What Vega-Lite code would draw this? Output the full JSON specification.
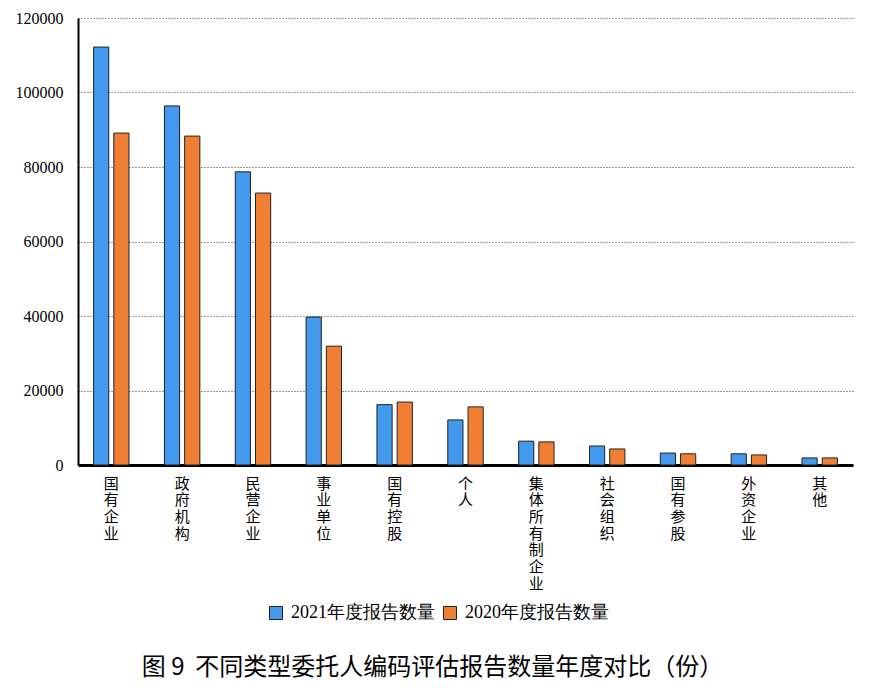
{
  "$schema": "https://vega.github.io/schema/vega-lite/v6.json",
  "autosize": {"type": "none"},
  "padding": {"left": 78, "top": 18, "right": 28, "bottom": 232},
  "width": 775,
  "height": 447,
  "background": "white",
  "title": {
    "text": "图\u00a09\u00a0\u00a0不同类型委托人编码评估报告数量年度对比（份）",
    "orient": "bottom",
    "anchor": "middle",
    "font": "Noto Sans CJK SC",
    "fontSize": 24,
    "fontWeight": "normal",
    "color": "#000000",
    "offset": 34,
    "dx": -33
  },
  "data": {
    "values": [
      {"类型": "国有企业", "年度": "2021年度报告数量", "数量": 112200},
      {"类型": "国有企业", "年度": "2020年度报告数量", "数量": 89100},
      {"类型": "政府机构", "年度": "2021年度报告数量", "数量": 96400},
      {"类型": "政府机构", "年度": "2020年度报告数量", "数量": 88300},
      {"类型": "民营企业", "年度": "2021年度报告数量", "数量": 78700},
      {"类型": "民营企业", "年度": "2020年度报告数量", "数量": 73000},
      {"类型": "事业单位", "年度": "2021年度报告数量", "数量": 39700},
      {"类型": "事业单位", "年度": "2020年度报告数量", "数量": 31900},
      {"类型": "国有控股", "年度": "2021年度报告数量", "数量": 16200},
      {"类型": "国有控股", "年度": "2020年度报告数量", "数量": 16900},
      {"类型": "个人", "年度": "2021年度报告数量", "数量": 12100},
      {"类型": "个人", "年度": "2020年度报告数量", "数量": 15600},
      {"类型": "集体所有制企业", "年度": "2021年度报告数量", "数量": 6400},
      {"类型": "集体所有制企业", "年度": "2020年度报告数量", "数量": 6200},
      {"类型": "社会组织", "年度": "2021年度报告数量", "数量": 5100},
      {"类型": "社会组织", "年度": "2020年度报告数量", "数量": 4300},
      {"类型": "国有参股", "年度": "2021年度报告数量", "数量": 3200},
      {"类型": "国有参股", "年度": "2020年度报告数量", "数量": 3000},
      {"类型": "外资企业", "年度": "2021年度报告数量", "数量": 3000},
      {"类型": "外资企业", "年度": "2020年度报告数量", "数量": 2700},
      {"类型": "其他", "年度": "2021年度报告数量", "数量": 1900},
      {"类型": "其他", "年度": "2020年度报告数量", "数量": 1900}
    ]
  },
  "mark": {"type": "bar", "stroke": "#222222", "strokeWidth": 1},
  "encoding": {
    "x": {
      "field": "类型",
      "type": "nominal",
      "sort": null,
      "scale": {"paddingInner": 0.5, "paddingOuter": 0.22},
      "axis": {
        "title": null,
        "labelAngle": 0,
        "labelExpr": "split(datum.label, '')",
        "labelFont": "Noto Sans CJK SC",
        "labelFontSize": 15,
        "labelLineHeight": 16.7,
        "labelBaseline": "top",
        "labelColor": "#000000",
        "labelPadding": 11,
        "ticks": false,
        "domainColor": "#000000",
        "domainWidth": 3,
        "grid": false
      }
    },
    "xOffset": {
      "field": "年度",
      "type": "nominal",
      "sort": ["2021年度报告数量", "2020年度报告数量"],
      "scale": {"paddingInner": 0.25, "paddingOuter": 0}
    },
    "y": {
      "field": "数量",
      "type": "quantitative",
      "scale": {"domain": [0, 120000], "nice": false},
      "axis": {
        "title": null,
        "values": [0, 20000, 40000, 60000, 80000, 100000, 120000],
        "format": "d",
        "labelFont": "Liberation Serif",
        "labelFontSize": 16,
        "labelColor": "#000000",
        "labelPadding": 15,
        "ticks": false,
        "domainColor": "#000000",
        "domainWidth": 2,
        "grid": true,
        "gridColor": "#333333",
        "gridDash": [1, 2],
        "gridWidth": 1
      }
    },
    "color": {
      "field": "年度",
      "type": "nominal",
      "sort": ["2021年度报告数量", "2020年度报告数量"],
      "scale": {"domain": ["2021年度报告数量", "2020年度报告数量"], "range": ["#4299EE", "#F07F34"]},
      "legend": {
        "title": null,
        "orient": "none",
        "legendX": 189,
        "legendY": 586,
        "direction": "horizontal",
        "symbolType": "square",
        "symbolSize": 169,
        "symbolStrokeColor": "#222222",
        "symbolStrokeWidth": 1,
        "symbolOpacity": 1,
        "labelFont": "Liberation Serif",
        "labelFontSize": 18,
        "labelColor": "#000000",
        "labelOffset": 6,
        "columnPadding": 6
      }
    }
  },
  "config": {
    "view": {"stroke": null}
  }
}
